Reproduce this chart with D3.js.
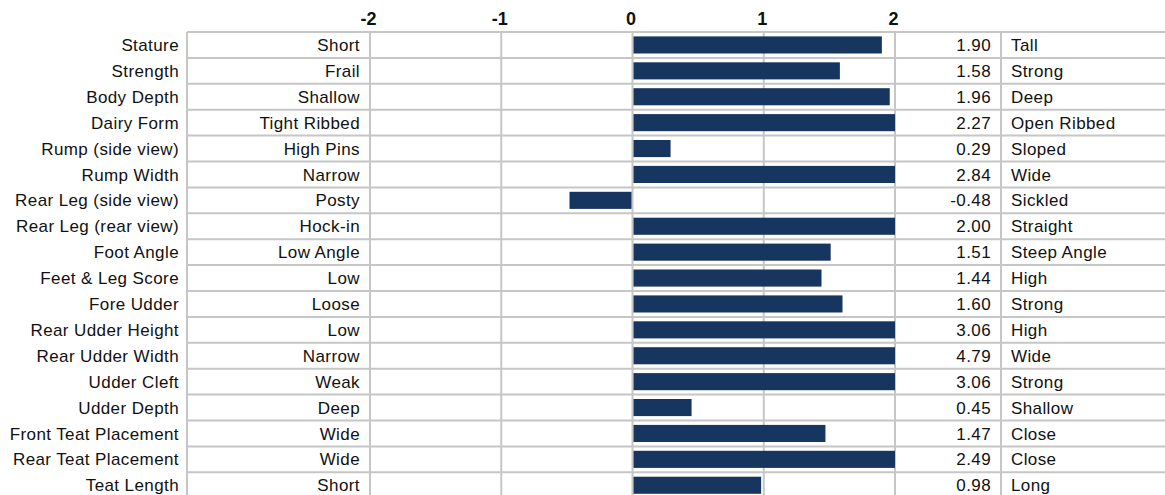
<!DOCTYPE html>
<html>
<head>
<meta charset="utf-8">
<script src="https://cdn.jsdelivr.net/npm/d3@7"></script>
<style>
  html, body { margin: 0; padding: 0; background: #ffffff; }
  svg { display: block; }
  text { font-family: "Liberation Sans", Arial, sans-serif; fill: #111; }
</style>
</head>
<body>
<svg id="chart" width="1165" height="495"></svg>
<script>
const traits = ["Stature","Strength","Body Depth","Dairy Form","Rump (side view)","Rump Width",
  "Rear Leg (side view)","Rear Leg (rear view)","Foot Angle","Feet & Leg Score","Fore Udder",
  "Rear Udder Height","Rear Udder Width","Udder Cleft","Udder Depth","Front Teat Placement",
  "Rear Teat Placement","Teat Length"];
const lowLabels = ["Short","Frail","Shallow","Tight Ribbed","High Pins","Narrow","Posty","Hock-in",
  "Low Angle","Low","Loose","Low","Narrow","Weak","Deep","Wide","Wide","Short"];
const highLabels = ["Tall","Strong","Deep","Open Ribbed","Sloped","Wide","Sickled","Straight",
  "Steep Angle","High","Strong","High","Wide","Strong","Shallow","Close","Close","Long"];
const values = [1.90,1.58,1.96,2.27,0.29,2.84,-0.48,2.00,1.51,1.44,1.60,3.06,4.79,3.06,0.45,1.47,2.49,0.98];
const tickValues = [-2,-1,0,1,2];

(function () {
const svg = d3.select("#chart");
const W = 1165;
const tableLeft = 187, valueDivider = 1001;
const gridTop = 32, rowH = 25.9;
const gridBottom = gridTop + rowH * traits.length;

const x = d3.scaleLinear().domain([-2, 2]).range([370, 895]);
const y = d3.scaleBand().domain(traits).range([gridTop, gridBottom]).paddingInner(0.34).paddingOuter(0.17);
const rowY = d3.scaleBand().domain(traits).range([gridTop, gridBottom]).padding(0);

const gridColor = "#c6c6c6";

// horizontal row lines
const hLines = d3.range(traits.length + 1).map(i => gridTop + i * rowH);
svg.append("g").selectAll("line").data(hLines).join("line")
  .attr("x1", tableLeft).attr("x2", W)
  .attr("y1", d => d).attr("y2", d => d)
  .attr("stroke", gridColor).attr("stroke-width", 2);

// vertical lines
const vLines = [tableLeft, ...tickValues.map(x), valueDivider];
svg.append("g").selectAll("line").data(vLines).join("line")
  .attr("x1", d => d).attr("x2", d => d)
  .attr("y1", gridTop).attr("y2", gridBottom)
  .attr("stroke", gridColor).attr("stroke-width", 2);

// bars (clipped to axis range)
svg.append("g").selectAll("rect").data(values).join("rect")
  .attr("x", d => x(Math.max(-2, Math.min(0, d))) + (d >= 0 ? 1 : 0))
  .attr("y", (d, i) => y(traits[i]))
  .attr("width", d => Math.abs(x(Math.max(-2, Math.min(2, d))) - x(0)) - 1)
  .attr("height", y.bandwidth())
  .attr("fill", "#17365f");

// axis on top
const axis = d3.axisTop(x).tickValues(tickValues).tickSize(0).tickPadding(0).tickFormat(d => String(d));
const ag = svg.append("g").attr("transform", "translate(-2,25)").call(axis);
ag.select(".domain").remove();
ag.selectAll("text")
  .style("font-family", '"Liberation Sans", Arial, sans-serif')
  .style("font-size", "18px").style("font-weight", "bold").attr("fill", "#111");

const labelStyle = sel => sel.style("font-size", "17px").style("letter-spacing", "0.4px");

// trait labels
svg.append("g").selectAll("text").data(traits).join("text")
  .attr("x", 179).attr("y", d => rowY(d) + rowY.bandwidth() / 2)
  .attr("dy", "0.36em").attr("text-anchor", "end").text(d => d).call(labelStyle);

// low labels
svg.append("g").selectAll("text").data(lowLabels).join("text")
  .attr("x", 360).attr("y", (d, i) => rowY(traits[i]) + rowY.bandwidth() / 2)
  .attr("dy", "0.36em").attr("text-anchor", "end").text(d => d).call(labelStyle);

// values
svg.append("g").selectAll("text").data(values).join("text")
  .attr("x", 991).attr("y", (d, i) => rowY(traits[i]) + rowY.bandwidth() / 2)
  .attr("dy", "0.36em").attr("text-anchor", "end").text(d => d3.format(".2f")(d).replace("\u2212", "-")).call(labelStyle);

// high labels
svg.append("g").selectAll("text").data(highLabels).join("text")
  .attr("x", 1011).attr("y", (d, i) => rowY(traits[i]) + rowY.bandwidth() / 2)
  .attr("dy", "0.36em").attr("text-anchor", "start").text(d => d).call(labelStyle);
})();
</script>
</body>
</html>
